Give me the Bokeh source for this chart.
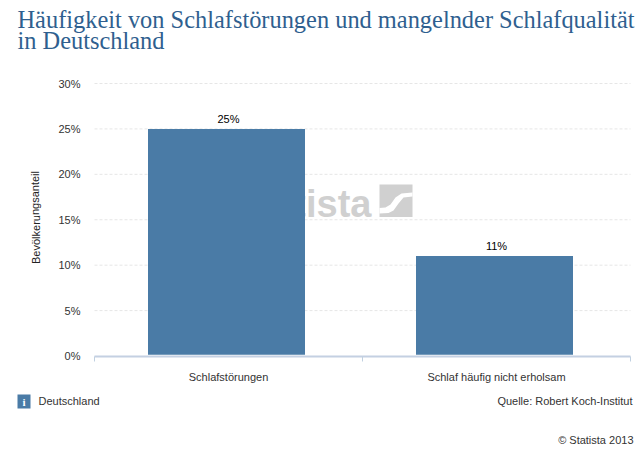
from bokeh.plotting import figure
from bokeh.models import (Range1d, FixedTicker, Label, BoxAnnotation, PolyAnnotation, ColumnDataSource, LabelSet, LinearAxis)
from bokeh.core.properties import value
from bokeh.transform import dodge
from bokeh.embed import file_html
from bokeh.resources import INLINE

categories = ["Schlafstörungen", "Schlaf häufig nicht erholsam"]
values = [25, 11]
value_labels = ["25%", "11%"]
y_ticks = [0, 5, 10, 15, 20, 25, 30]
y_tick_labels = ["0%", "5%", "10%", "15%", "20%", "25%", "30%"]
title_lines = ["Häufigkeit von Schlafstörungen und mangelnder Schlafqualität", "in Deutschland"]
y_title = "Bevölkerungsanteil"
region = "Deutschland"
source_text = "Quelle: Robert Koch-Institut"
copyright_text = "© Statista 2013"

BAR = "#4a7ba6"
SANS = "Liberation Sans"
W, H = 642, 450
# pixel geometry of the plot area
PX_L, PX_R, PX_T, PX_B = 94, 630, 83, 355.5

positions = [i + 0.5 for i in range(len(categories))]
src = ColumnDataSource(dict(x=positions, top=values, label=value_labels))

# the frame fills the whole canvas, so texts around the plot area are not clipped
xu = 2 / (PX_R - PX_L)
yu = 30 / (PX_B - PX_T)
p = figure(width=W, height=H, output_backend="svg", toolbar_location=None,
           x_range=Range1d(-PX_L * xu, (W - PX_L) * xu), y_range=Range1d(-(H - PX_B) * yu, PX_B * yu),
           x_axis_type=None, y_axis_type=None,
           min_border_left=0, min_border_right=0, min_border_top=0, min_border_bottom=0)
p.outline_line_color = None
p.background_fill_color = "white"
p.grid.visible = False

grid = p.segment(x0=[0] * (len(y_ticks) - 1), x1=[2] * (len(y_ticks) - 1), y0=y_ticks[1:], y1=y_ticks[1:],
                 line_color="#e6e6e6", line_width=1, level="underlay")
grid.glyph.line_dash = [3, 2]

xa = LinearAxis(fixed_location=0, bounds=(0, 2))
xa.ticker = FixedTicker(ticks=positions, minor_ticks=[0, 1, 2])
xa.major_label_overrides = {pos: c for pos, c in zip(positions, categories)}
xa.major_tick_line_color = None
xa.minor_tick_line_color = "#c0d0e0"
xa.minor_tick_in = 0
xa.minor_tick_out = 5
xa.axis_line_color = "#c4d0e2"
xa.axis_line_width = 2
xa.major_label_text_font = SANS
xa.major_label_text_font_size = "11px"
xa.major_label_text_color = "#333333"
xa.major_label_standoff = 9
p.add_layout(xa, "below")

ya = LinearAxis(fixed_location=0, bounds=(0, 30))
ya.ticker = FixedTicker(ticks=y_ticks)
ya.major_label_overrides = {t: l for t, l in zip(y_ticks, y_tick_labels)}
ya.axis_line_color = None
ya.major_tick_line_color = None
ya.minor_tick_line_color = None
ya.major_label_text_font = SANS
ya.major_label_text_font_size = "11px"
ya.major_label_text_color = "#333333"
ya.major_label_standoff = 8
p.add_layout(ya, "left")

def canvas_label(text, x, y, **kw):
    kw.setdefault("text_font", SANS)
    kw.setdefault("text_font_size", "11px")
    kw.setdefault("text_color", "#333333")
    kw.setdefault("text_baseline", "alphabetic")
    return Label(text=text, x=x, y=y, x_units="canvas", y_units="canvas", **kw)

def canvas_box(left, right, top, bottom, **kw):
    return BoxAnnotation(left=left, right=right, top=top, bottom=bottom,
                         left_units="canvas", right_units="canvas", top_units="canvas", bottom_units="canvas",
                         fill_alpha=1, line_color=None, **kw)

# watermark, behind the bars
p.add_layout(canvas_label("statista", 371, 203, text_font_size="38px",
                          text_font_style="bold", text_color="#d0d0d0", text_align="right", level="underlay"))
p.add_layout(canvas_box(379, 412, 184, 216.5, fill_color="#d0d0d0", level="underlay"))
sw_x = [379, 385, 390, 395, 401, 412, 412, 403, 398, 393, 388, 379]
sw_y = [207.5, 207, 204, 197, 193, 192, 196, 197, 203, 210, 212.5, 213]
p.add_layout(PolyAnnotation(xs=sw_x, ys=sw_y, xs_units="canvas", ys_units="canvas",
                            fill_color="white", fill_alpha=1, line_color=None, level="underlay"))

p.vbar(x=dodge("x", -2 * xu, range=p.x_range), top="top", bottom=0.15, width=157 * xu,
       source=src, fill_color=BAR, line_color=None)
p.add_layout(LabelSet(x="x", y="top", text="label", source=src, text_align="center", text_baseline="alphabetic",
                      y_offset=6, text_font=value(SANS), text_font_size=value("11px"), text_color="#000000"))

for line, y in zip(title_lines, [19, 40]):
    p.add_layout(canvas_label(line, 17, y, text_font="Liberation Serif", text_font_size="24.4px", text_color="#2f5f8f"))

p.add_layout(canvas_label(y_title, 35, 217, angle=1.5708, angle_units="rad", text_align="center", text_color="#222222"))

p.add_layout(canvas_box(17, 30, 394, 408, fill_color=BAR))
p.add_layout(canvas_label("i", 23.5, 401, text_font="Liberation Serif", text_font_style="bold",
                          text_color="white", text_align="center"))
p.add_layout(canvas_label(region, 38, 400))
p.add_layout(canvas_label(source_text, 632, 400, text_align="right"))
p.add_layout(canvas_label(copyright_text, 633, 439, text_align="right"))

open("out.html", "w").write(file_html(p, INLINE))
